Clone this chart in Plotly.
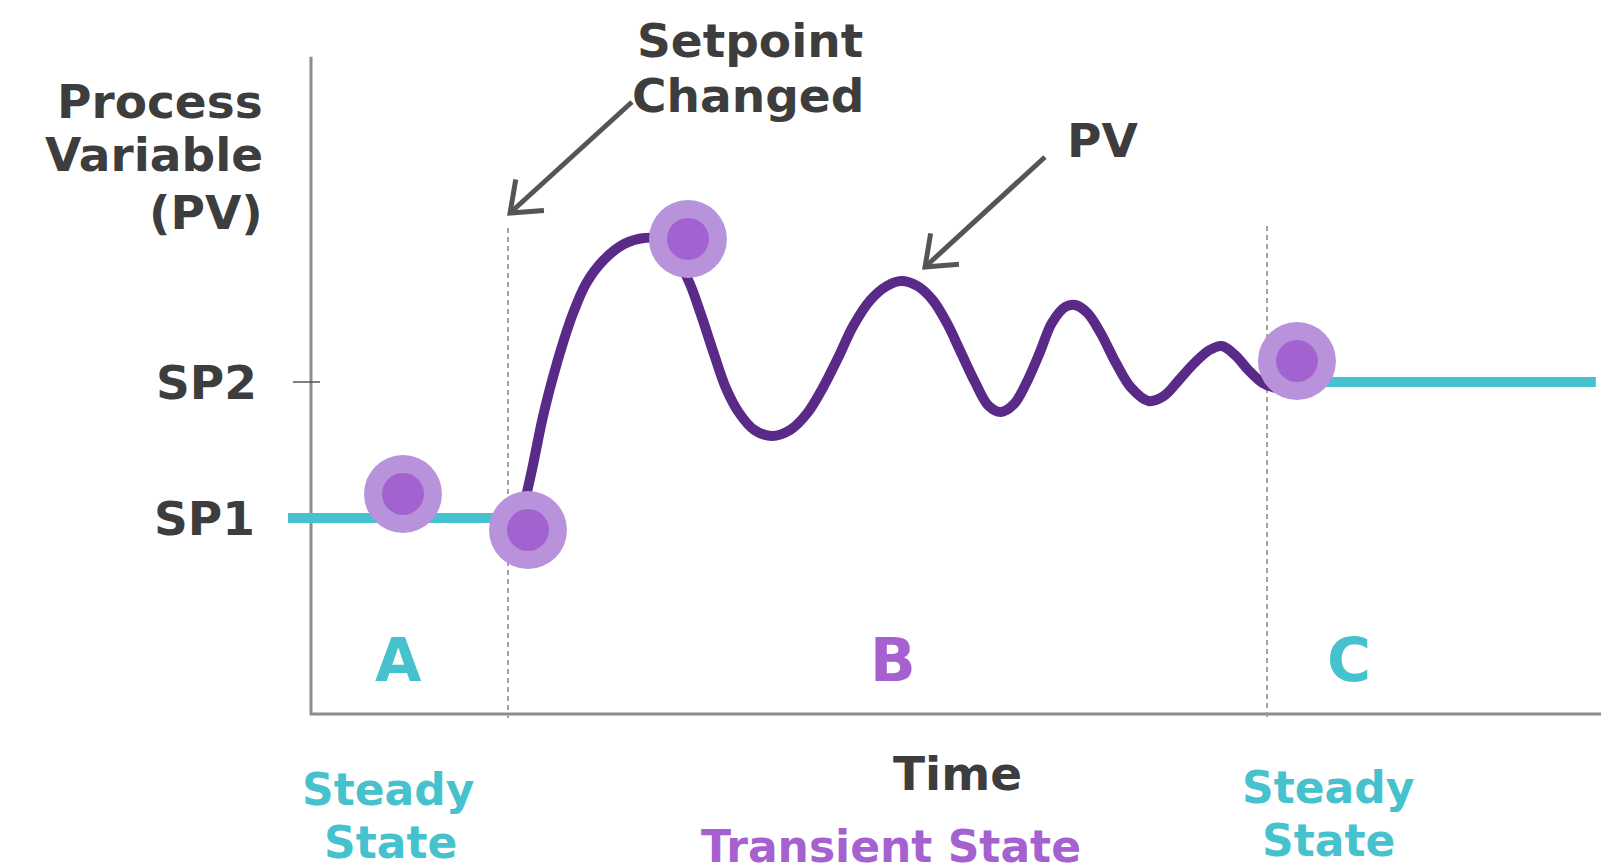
import math
import plotly.graph_objects as go

# ---------------- data (time units / PV units) ----------------
SP1 = 29.5
SP2 = 50.0

pv_time = [16.4, 17.16, 17.96, 18.74, 19.53, 20.32, 21.35, 22.69, 24.27, 25.85,
           27.52, 29.24, 30.19, 31.21, 32.16, 33.19, 34.37, 35.72, 37.14, 38.48,
           39.67, 40.85, 42.03, 43.37, 44.64, 45.75, 47.01, 48.19, 49.29, 50.40,
           51.51, 52.53, 53.47, 54.50, 55.45, 56.48, 57.43, 58.46, 59.24, 60.19,
           61.21, 62.40, 63.59, 64.92, 66.11, 67.29, 68.48, 69.66, 70.60, 71.63,
           72.66, 73.77, 74.79]
pv_value = [30.5, 37.05, 44.58, 50.60, 55.87, 60.39, 64.91, 68.37, 70.78, 71.69,
            71.3, 65.36, 60.39, 54.37, 49.10, 45.33, 42.77, 41.87, 42.77, 45.33,
            49.10, 53.61, 58.43, 62.35, 64.46, 65.21, 64.46, 62.35, 58.89, 54.37,
            49.85, 46.39, 45.48, 46.69, 49.85, 54.37, 58.89, 61.30, 61.60, 60.39,
            57.38, 52.86, 49.10, 47.14, 47.89, 50.30, 52.86, 54.82, 55.42, 54.07,
            51.81, 49.85, 49.10]

steady_a_time = [-1.78, 16.82]
steady_c_time = [76.43, 99.6]

marker_time = [7.13, 16.82, 29.22, 76.43]
marker_value = [33.13, 27.71, 71.54, 53.16]

change_time = 15.27      # setpoint changed
settle_time = 74.11      # settled
x_axis_end = 100.0
y_axis_end = 99.0

region_labels = ["A", "B", "C"]
region_label_time = [6.82, 45.12, 80.47]
sp_labels = ["SP1", "SP2"]

# ---------------- styles ----------------
XS = 12.9   # px per time unit
YS = 6.64   # px per PV unit
X0 = 303    # px of time 0
Y0 = 706    # px of PV 0
X_RANGE = [-X0 / XS, (1610 - X0) / XS]
Y_RANGE = [(Y0 - 868) / YS, Y0 / YS]

DARK = "#3d3d3d"
CYAN = "#45c2cd"
PURPLE_TXT = "#a561cf"
CURVE = "#5a2a88"
OUTER = "#b992dc"
INNER = "#a262cf"
AXIS = "#8c8c8c"
ARROW = "#555555"
FONT = "DejaVu Sans"

fig = go.Figure()

# axes
fig.add_trace(go.Scatter(x=[0, 0, x_axis_end], y=[y_axis_end, 0, 0], mode="lines",
                         line=dict(color=AXIS, width=3), hoverinfo="skip"))
# SP2 tick
fig.add_trace(go.Scatter(x=[-1.4, 0.7], y=[SP2, SP2], mode="lines",
                         line=dict(color="#555555", width=1.5), hoverinfo="skip"))
# dashed region separators
for t, top in [(change_time, 73.2), (settle_time, 73.5)]:
    fig.add_trace(go.Scatter(x=[t, t], y=[top, -0.6], mode="lines",
                             line=dict(color="#9a9a9a", width=1.8, dash="5px,4px"),
                             hoverinfo="skip"))
# steady lines
fig.add_trace(go.Scatter(x=steady_a_time, y=[SP1, SP1], mode="lines",
                         line=dict(color=CYAN, width=10), hoverinfo="skip"))
fig.add_trace(go.Scatter(x=steady_c_time, y=[SP2, SP2], mode="lines",
                         line=dict(color=CYAN, width=10), hoverinfo="skip"))
# PV curve
fig.add_trace(go.Scatter(x=pv_time, y=pv_value, mode="lines",
                         line=dict(color=CURVE, width=10, shape="spline", smoothing=1.0),
                         hoverinfo="skip"))
# markers
fig.add_trace(go.Scatter(x=marker_time, y=marker_value, mode="markers",
                         marker=dict(size=78, color=OUTER, line=dict(width=0)),
                         hoverinfo="skip"))
fig.add_trace(go.Scatter(x=marker_time, y=marker_value, mode="markers",
                         marker=dict(size=42, color=INNER, line=dict(width=0)),
                         hoverinfo="skip"))


# arrows (shaft + open V head, head computed in pixel space)
def add_arrow(tail, tip, head_len=34, half_angle=38):
    dx = (tail[0] - tip[0]) * XS
    dy = -(tail[1] - tip[1]) * YS
    ang = math.atan2(dy, dx)
    pts = []
    for s in (1, -1):
        a = ang + s * math.radians(half_angle)
        pts.append((tip[0] + math.cos(a) * head_len / XS,
                    tip[1] - math.sin(a) * head_len / YS))
    fig.add_trace(go.Scatter(x=[tail[0], tip[0]], y=[tail[1], tip[1]], mode="lines",
                             line=dict(color=ARROW, width=5), hoverinfo="skip"))
    fig.add_trace(go.Scatter(x=[pts[0][0], tip[0], pts[1][0]],
                             y=[pts[0][1], tip[1], pts[1][1]], mode="lines",
                             line=dict(color=ARROW, width=5), hoverinfo="skip"))


add_arrow((24.88, 92.17), (15.43, 75.45))
add_arrow((56.90, 83.89), (47.60, 67.32))


def label(text, x, y, color=DARK, size=47, xanchor="center"):
    fig.add_annotation(x=x, y=y, xref="x", yref="y", text="<b>%s</b>" % text,
                       showarrow=False, xanchor=xanchor, yanchor="middle",
                       font=dict(family=FONT, size=size, color=color))


label("Process", -3.56, 92.3, xanchor="right")
label("Variable", -3.56, 84.2, xanchor="right")
label("(PV)", -3.56, 75.6, xanchor="right")
label(sp_labels[1], -4.03, SP2, xanchor="right")
label(sp_labels[0], -4.19, SP1, xanchor="right")
label("Setpoint", 34.03, 101.5)
label("Changed", 33.88, 93.2)
label("PV", 58.45, 86.3, xanchor="left")
for lab, t, c in zip(region_labels, region_label_time, [CYAN, PURPLE_TXT, CYAN]):
    label(lab, t, 8.1, color=c, size=60)
label("Time", 50.08, -8.9)
label("Steady", 5.97, -11.3, color=CYAN, size=44)
label("State", 6.20, -19.3, color=CYAN, size=44)
label("Steady", 78.84, -11.1, color=CYAN, size=44)
label("State", 78.91, -19.0, color=CYAN, size=44)
label("Transient State", 44.96, -19.9, color=PURPLE_TXT, size=44)

fig.update_layout(
    width=1610, height=868,
    margin=dict(l=0, r=0, t=0, b=0),
    paper_bgcolor="white", plot_bgcolor="white",
    showlegend=False,
    xaxis=dict(range=X_RANGE, visible=False, fixedrange=True),
    yaxis=dict(range=Y_RANGE, visible=False, fixedrange=True),
)

fig.write_html("out.html")
